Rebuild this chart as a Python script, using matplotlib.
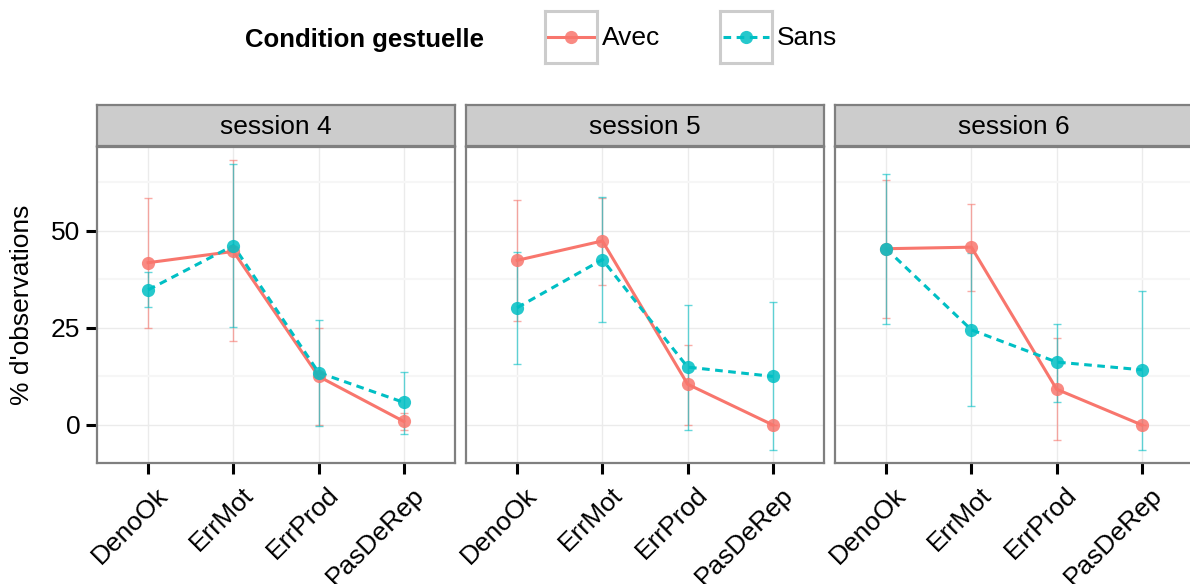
import numpy as np
import matplotlib

matplotlib.use("Agg")
import matplotlib.pyplot as plt
from matplotlib.transforms import ScaledTranslation

plt.rcParams["font.family"] = ["Liberation Sans", "DejaVu Sans"]

categories = ["DenoOk", "ErrMot", "ErrProd", "PasDeRep"]
sessions = ["session 4", "session 5", "session 6"]

# mean % per category, one row per session
avec_mean = [[41.8, 44.7, 12.5, 0.9], [42.4, 47.4, 10.5, 0.0], [45.4, 45.8, 9.2, 0.0]]
avec_low = [[25.1, 21.6, -0.1, -1.3], [26.9, 36.1, 0.1, 0.0], [27.5, 34.6, -4.0, 0.0]]
avec_high = [[58.4, 68.2, 25.1, 3.0], [58.0, 58.5, 20.7, 0.0], [63.2, 57.0, 22.3, 0.0]]

sans_mean = [[34.8, 46.2, 13.5, 5.8], [30.2, 42.6, 14.9, 12.5], [45.4, 24.5, 16.2, 14.2]]
sans_low = [[30.4, 25.3, -0.2, -2.3], [15.6, 26.6, -1.4, -6.4], [26.0, 4.8, 6.0, -6.4]]
sans_high = [[39.4, 67.1, 27.1, 13.6], [44.6, 58.8, 31.0, 31.6], [64.7, 44.2, 26.0, 34.5]]

RED = "#F8766D"
CYAN = "#00BFC4"
BORDER = "#7f7f7f"
DASH = (0, (2.5, 1.8))
FS = 19

W, H = 1190, 584


def px_box(left, top, right, bottom):
    return [left / W, (H - bottom) / H, (right - left) / W, (bottom - top) / H]


def draw_series(ax, x, mean, low, high, color, ls):
    mean = np.asarray(mean)
    yerr = [mean - np.asarray(low), np.asarray(high) - mean]
    ax.errorbar(x, mean, yerr=yerr, fmt="none", ecolor=color, elinewidth=1.0,
                capsize=3, capthick=1.0, alpha=0.6, zorder=3)
    ax.plot(x, mean, color=color, lw=2.2, ls=ls, zorder=4)
    ax.plot(x, mean, "o", color=color, ms=9.5, alpha=0.85, mec="none", zorder=5)


fig = plt.figure(figsize=(W / 100, H / 100), dpi=100)
label_shift = ScaledTranslation(8 / 100, -3 / 100, fig.dpi_scale_trans)

x = np.arange(1, len(categories) + 1)
lefts = [97, 466, 835]
for i, name in enumerate(sessions):
    ax = fig.add_axes(px_box(lefts[i], 147, lefts[i] + 358, 463))
    ax.set_xlim(0.4, 4.6)
    ax.set_ylim(-9.8, 71.6)
    ax.set_yticks([0, 25, 50])
    ax.set_yticks([12.5, 37.5, 62.5], minor=True)
    ax.set_xticks(x)
    ax.grid(True, which="major", color="#ebebeb", lw=1.0, zorder=0)
    ax.grid(True, which="minor", axis="y", color="#f6f6f6", lw=1.6, zorder=0)
    ax.set_axisbelow(True)
    for sp in ax.spines.values():
        sp.set_color(BORDER)
        sp.set_linewidth(1.6)
    ax.tick_params(axis="y", which="minor", length=0)
    ax.tick_params(axis="both", which="major", length=8, width=2.2, color="black",
                   labelsize=FS, pad=4)
    ax.set_xticklabels(categories, rotation=45, ha="right", va="top",
                       rotation_mode="anchor")
    for lab in ax.get_xticklabels():
        lab.set_transform(lab.get_transform() + label_shift)
    if i == 0:
        ax.set_ylabel("% d'observations", fontsize=FS, labelpad=12)
    else:
        ax.tick_params(axis="y", length=0, labelleft=False)

    draw_series(ax, x, avec_mean[i], avec_low[i], avec_high[i], RED, "-")
    draw_series(ax, x, sans_mean[i], sans_low[i], sans_high[i], CYAN, DASH)

    strip = fig.add_axes(px_box(lefts[i], 105, lefts[i] + 358, 146))
    strip.set_facecolor("#cccccc")
    strip.set_xticks([])
    strip.set_yticks([])
    for sp in strip.spines.values():
        sp.set_color(BORDER)
        sp.set_linewidth(1.6)
    strip.text(0.5, 0.47, name, ha="center", va="center", fontsize=FS,
               transform=strip.transAxes)

# legend: title on the left, boxed keys
fig.text(245 / W, (H - 40) / H, "Condition gestuelle", fontsize=18.5,
         fontweight="bold", ha="left", va="center")
keys = [(545, "Avec", RED, "-"), (720, "Sans", CYAN, DASH)]
for left, label, color, ls in keys:
    kax = fig.add_axes(px_box(left, 11, left + 52, 63))
    kax.set_xlim(0, 1)
    kax.set_ylim(0, 1)
    kax.set_xticks([])
    kax.set_yticks([])
    for sp in kax.spines.values():
        sp.set_color("#cccccc")
        sp.set_linewidth(2.2)
    kax.plot([0.05, 0.95], [0.5, 0.5], color=color, lw=2.2, ls=ls)
    kax.plot([0.5], [0.5], "o", color=color, ms=9.5, alpha=0.85, mec="none")
    fig.text((left + 57) / W, (H - 38) / H, label, fontsize=FS,
             ha="left", va="center")

fig.savefig("out.png", dpi=100)
